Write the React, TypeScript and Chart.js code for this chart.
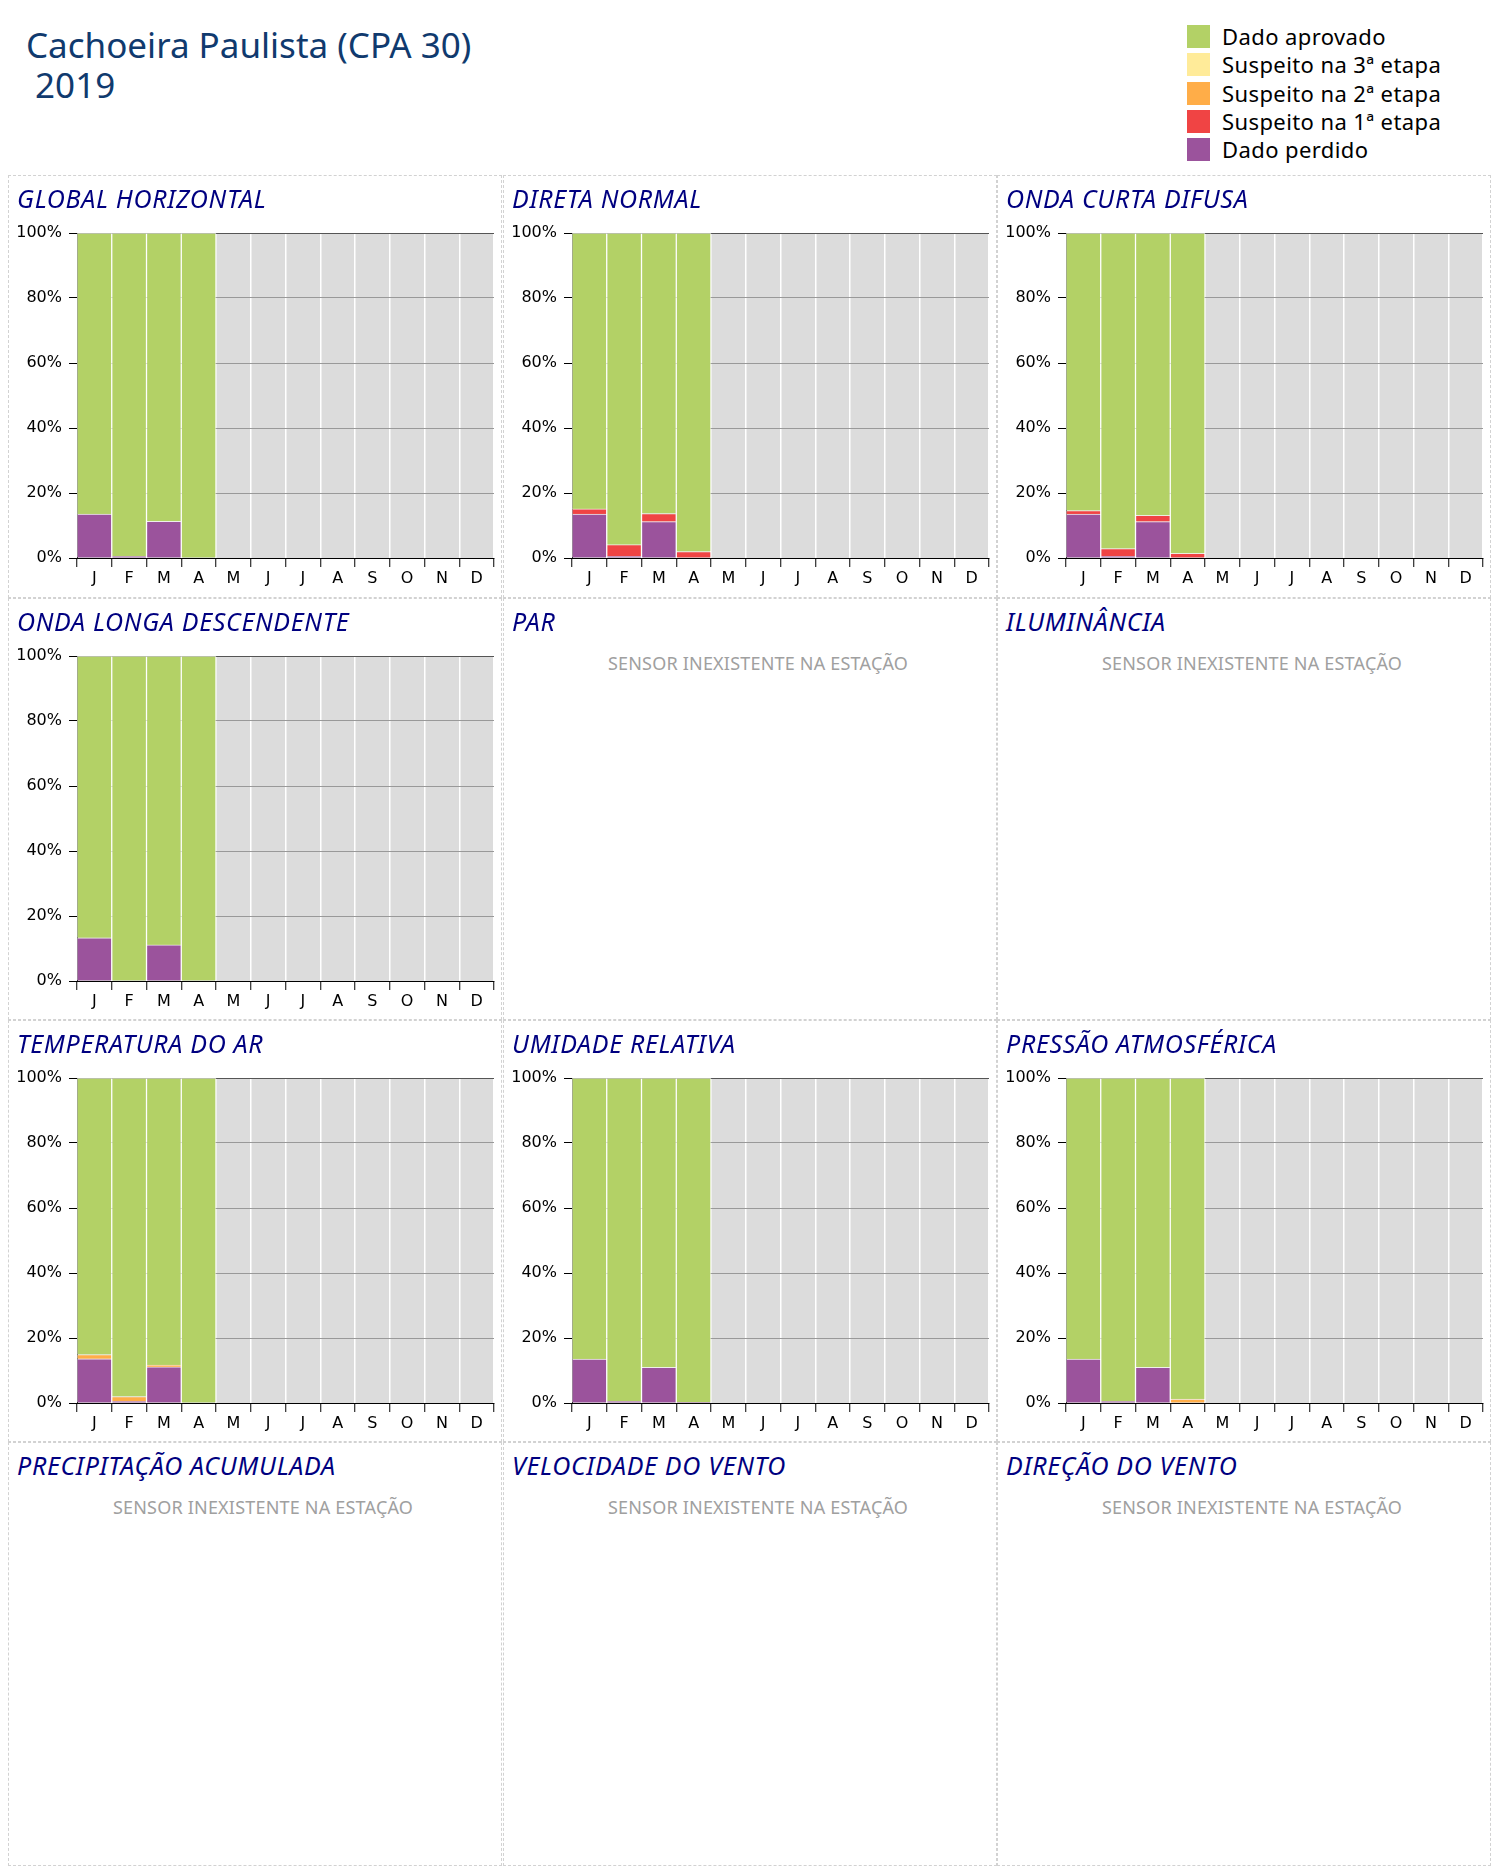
import React, { useEffect, useRef } from 'react';
import { Chart, registerables } from 'chart.js';

Chart.register(...registerables);

if (typeof document !== 'undefined') {
  document.body.style.margin = '0';
}

// ---------- data ----------
const MONTHS = ['J', 'F', 'M', 'A', 'M', 'J', 'J', 'A', 'S', 'O', 'N', 'D'];
const Y_TICKS = [0, 20, 40, 60, 80, 100];

// legend order (top to bottom)
const SERIES_LABELS = ['Dado aprovado', 'Suspeito na 3ª etapa', 'Suspeito na 2ª etapa', 'Suspeito na 1ª etapa', 'Dado perdido'];
const SERIES_COLORS = ['#b3d166', '#ffeb99', '#ffad48', '#f04444', '#9b539c'];

const STATION_TITLE = 'Cachoeira Paulista (CPA 30)';
const STATION_YEAR = ' 2019';
const NO_SENSOR_TEXT = 'SENSOR INEXISTENTE NA ESTAÇÃO';

const N = null;

// GLOBAL HORIZONTAL
const GH_PERDIDO = [13.5, 0.5, 11.3, 0, N, N, N, N, N, N, N, N];
const GH_S1 = [0, 0, 0, 0, N, N, N, N, N, N, N, N];
const GH_S2 = [0, 0, 0, 0, N, N, N, N, N, N, N, N];
const GH_S3 = [0, 0, 0, 0, N, N, N, N, N, N, N, N];
const GH_APROVADO = [86.5, 99.5, 88.7, 100, N, N, N, N, N, N, N, N];

// DIRETA NORMAL
const DN_PERDIDO = [13.5, 0.5, 11.2, 0, N, N, N, N, N, N, N, N];
const DN_S1 = [1.6, 3.6, 2.5, 2.0, N, N, N, N, N, N, N, N];
const DN_S2 = [0, 0, 0, 0, N, N, N, N, N, N, N, N];
const DN_S3 = [0, 0, 0, 0, N, N, N, N, N, N, N, N];
const DN_APROVADO = [84.9, 95.9, 86.3, 98.0, N, N, N, N, N, N, N, N];

// ONDA CURTA DIFUSA
const OCD_PERDIDO = [13.5, 0.5, 11.2, 0, N, N, N, N, N, N, N, N];
const OCD_S1 = [1.1, 2.4, 1.9, 1.4, N, N, N, N, N, N, N, N];
const OCD_S2 = [0, 0, 0, 0, N, N, N, N, N, N, N, N];
const OCD_S3 = [0, 0, 0, 0, N, N, N, N, N, N, N, N];
const OCD_APROVADO = [85.4, 97.1, 86.9, 98.6, N, N, N, N, N, N, N, N];

// ONDA LONGA DESCENDENTE
const OLD_PERDIDO = [13.3, 0, 11.1, 0, N, N, N, N, N, N, N, N];
const OLD_S1 = [0, 0, 0, 0, N, N, N, N, N, N, N, N];
const OLD_S2 = [0, 0, 0, 0, N, N, N, N, N, N, N, N];
const OLD_S3 = [0, 0, 0, 0, N, N, N, N, N, N, N, N];
const OLD_APROVADO = [86.7, 100, 88.9, 100, N, N, N, N, N, N, N, N];

// TEMPERATURA DO AR
const TA_PERDIDO = [13.6, 0.5, 11.1, 0, N, N, N, N, N, N, N, N];
const TA_S1 = [0, 0, 0, 0, N, N, N, N, N, N, N, N];
const TA_S2 = [1.3, 1.5, 0.6, 0, N, N, N, N, N, N, N, N];
const TA_S3 = [0, 0, 0, 0, N, N, N, N, N, N, N, N];
const TA_APROVADO = [85.1, 98.0, 88.3, 100, N, N, N, N, N, N, N, N];

// UMIDADE RELATIVA
const UR_PERDIDO = [13.5, 0.5, 11.0, 0.2, N, N, N, N, N, N, N, N];
const UR_S1 = [0, 0, 0, 0, N, N, N, N, N, N, N, N];
const UR_S2 = [0, 0, 0, 0, N, N, N, N, N, N, N, N];
const UR_S3 = [0, 0, 0, 0, N, N, N, N, N, N, N, N];
const UR_APROVADO = [86.5, 99.5, 89.0, 99.8, N, N, N, N, N, N, N, N];

// PRESSÃO ATMOSFÉRICA
const PA_PERDIDO = [13.5, 0.5, 11.0, 0, N, N, N, N, N, N, N, N];
const PA_S1 = [0, 0, 0, 0, N, N, N, N, N, N, N, N];
const PA_S2 = [0, 0, 0, 1.2, N, N, N, N, N, N, N, N];
const PA_S3 = [0, 0, 0, 0, N, N, N, N, N, N, N, N];
const PA_APROVADO = [86.5, 99.5, 89.0, 98.8, N, N, N, N, N, N, N, N];

type Series = {
  aprovado: (number | null)[];
  s3: (number | null)[];
  s2: (number | null)[];
  s1: (number | null)[];
  perdido: (number | null)[];
};

type PanelDef = { title: string; series: Series | null };

const PANELS: PanelDef[] = [
  { title: 'GLOBAL HORIZONTAL', series: { aprovado: GH_APROVADO, s3: GH_S3, s2: GH_S2, s1: GH_S1, perdido: GH_PERDIDO } },
  { title: 'DIRETA NORMAL', series: { aprovado: DN_APROVADO, s3: DN_S3, s2: DN_S2, s1: DN_S1, perdido: DN_PERDIDO } },
  { title: 'ONDA CURTA DIFUSA', series: { aprovado: OCD_APROVADO, s3: OCD_S3, s2: OCD_S2, s1: OCD_S1, perdido: OCD_PERDIDO } },
  { title: 'ONDA LONGA DESCENDENTE', series: { aprovado: OLD_APROVADO, s3: OLD_S3, s2: OLD_S2, s1: OLD_S1, perdido: OLD_PERDIDO } },
  { title: 'PAR', series: null },
  { title: 'ILUMINÂNCIA', series: null },
  { title: 'TEMPERATURA DO AR', series: { aprovado: TA_APROVADO, s3: TA_S3, s2: TA_S2, s1: TA_S1, perdido: TA_PERDIDO } },
  { title: 'UMIDADE RELATIVA', series: { aprovado: UR_APROVADO, s3: UR_S3, s2: UR_S2, s1: UR_S1, perdido: UR_PERDIDO } },
  { title: 'PRESSÃO ATMOSFÉRICA', series: { aprovado: PA_APROVADO, s3: PA_S3, s2: PA_S2, s1: PA_S1, perdido: PA_PERDIDO } },
  { title: 'PRECIPITAÇÃO ACUMULADA', series: null },
  { title: 'VELOCIDADE DO VENTO', series: null },
  { title: 'DIREÇÃO DO VENTO', series: null },
];

// ---------- layout ----------
const COL_X = [8, 503, 997];
const ROW_Y = [175, 598, 1020, 1442];
const PANEL_W = 494;
const ROW_H = [423, 422, 422, 424];
const CANVAS_W = 494;
const CANVAS_H = 422;

const bgPlugin = {
  id: 'plotBg',
  beforeDraw(chart: any) {
    const { ctx, chartArea } = chart;
    if (!chartArea) return;
    ctx.save();
    ctx.fillStyle = '#dcdcdc';
    ctx.fillRect(chartArea.left, chartArea.top, chartArea.right - chartArea.left, chartArea.bottom - chartArea.top);
    ctx.restore();
  },
};

function QualityChart({ series }: { series: Series }) {
  const ref = useRef<HTMLCanvasElement | null>(null);
  useEffect(() => {
    if (!ref.current) return;
    const order: [keyof Series, number][] = [
      ['perdido', 4],
      ['s1', 3],
      ['s2', 2],
      ['s3', 1],
      ['aprovado', 0],
    ];
    const datasets = order.map(([key, idx]) => ({
      label: SERIES_LABELS[idx],
      data: series[key],
      backgroundColor: SERIES_COLORS[idx],
      borderColor: 'rgba(255,255,255,0.6)',
      borderWidth: 1,
      barPercentage: 1,
      categoryPercentage: 1,
    }));
    const chart = new Chart(ref.current, {
      type: 'bar',
      data: { labels: MONTHS, datasets },
      options: {
        responsive: false,
        animation: false,
        layout: { padding: { top: 58, right: 8, left: 0, bottom: 0 } },
        plugins: { legend: { display: false }, tooltip: { enabled: false } },
        scales: {
          x: {
            stacked: true,
            grid: {
              offset: true,
              color: (c: any) => (c.index === 0 ? 'rgba(0,0,0,0)' : '#ffffff'),
              lineWidth: 1.5,
              tickLength: 9,
              tickColor: '#000000',
              tickWidth: 1,
            },
            border: { color: '#000000', width: 1 },
            ticks: {
              color: '#000000',
              font: { family: 'DejaVu Sans', size: 16 },
              padding: 2,
              autoSkip: false,
              maxRotation: 0,
            },
            afterFit: (s: any) => {
              s.height = CANVAS_H - 383;
            },
          },
          y: {
            stacked: true,
            min: 0,
            max: 100,
            afterBuildTicks: (s: any) => {
              s.ticks = Y_TICKS.map((v) => ({ value: v }));
            },
            ticks: {
              callback: (v: any) => v + '%',
              color: '#000000',
              font: { family: 'DejaVu Sans', size: 16 },
              padding: 7,
            },
            grid: {
              color: (c: any) =>
                c.tick && c.tick.value === 100 ? '#555555' : c.tick && c.tick.value === 0 ? 'rgba(0,0,0,0)' : '#999999',
              tickLength: 8,
              tickColor: '#000000',
              lineWidth: 1,
            },
            border: { color: '#000000', width: 1 },
            afterFit: (s: any) => {
              s.width = 69;
            },
          },
        },
      },
      plugins: [bgPlugin],
    });
    return () => chart.destroy();
  }, [series]);
  return (
    <canvas
      ref={ref}
      width={CANVAS_W}
      height={CANVAS_H}
      style={{ position: 'absolute', left: -1, top: -1, width: CANVAS_W, height: CANVAS_H }}
    />
  );
}

function Panel({ def, x, y, h }: { def: PanelDef; x: number; y: number; h: number }) {
  return (
    <div
      style={{
        position: 'absolute',
        left: x,
        top: y,
        width: PANEL_W,
        height: h,
        boxSizing: 'border-box',
        border: '1px dashed #d2d2d2',
      }}
    >
      {def.series && <QualityChart series={def.series} />}
      <div
        style={{
          position: 'absolute',
          left: 8,
          top: 10,
          fontFamily: '"Noto Sans", sans-serif',
          fontStyle: 'italic',
          fontSize: 25,
          lineHeight: '25px',
          letterSpacing: 0.7,
          color: '#000080',
          whiteSpace: 'nowrap',
        }}
      >
        {def.title}
      </div>
      {!def.series && (
        <div
          style={{
            position: 'absolute',
            left: 16,
            right: 0,
            top: 55,
            textAlign: 'center',
            fontFamily: '"Noto Sans", sans-serif',
            fontSize: 18,
            lineHeight: '18px',
            letterSpacing: 0.2,
            color: '#a0a0a0',
            whiteSpace: 'nowrap',
          }}
        >
          {NO_SENSOR_TEXT}
        </div>
      )}
    </div>
  );
}

export default function App() {
  return (
    <div
      style={{
        position: 'relative',
        width: 1500,
        height: 1874,
        background: '#ffffff',
        overflow: 'hidden',
        fontFamily: '"Noto Sans", sans-serif',
      }}
    >
      <div
        style={{
          position: 'absolute',
          left: 26,
          top: 25,
          fontSize: 35,
          lineHeight: '40px',
          color: '#103a6e',
          whiteSpace: 'pre',
        }}
      >
        {STATION_TITLE}
        {'\n'}
        {STATION_YEAR}
      </div>
      {SERIES_LABELS.map((lab, i) => (
        <div
          key={lab}
          style={{
            position: 'absolute',
            left: 1187,
            top: 25 + i * 28.25,
            height: 23,
            display: 'flex',
            alignItems: 'center',
            whiteSpace: 'nowrap',
          }}
        >
          <div style={{ width: 23, height: 23, background: SERIES_COLORS[i] }} />
          <div style={{ marginLeft: 12, fontSize: 22, lineHeight: '23px', color: '#000000', letterSpacing: 0.4 }}>{lab}</div>
        </div>
      ))}
      {PANELS.map((p, i) => {
        const r = Math.floor(i / 3);
        const c = i % 3;
        return <Panel key={p.title} def={p} x={COL_X[c]} y={ROW_Y[r]} h={ROW_H[r]} />;
      })}
    </div>
  );
}
